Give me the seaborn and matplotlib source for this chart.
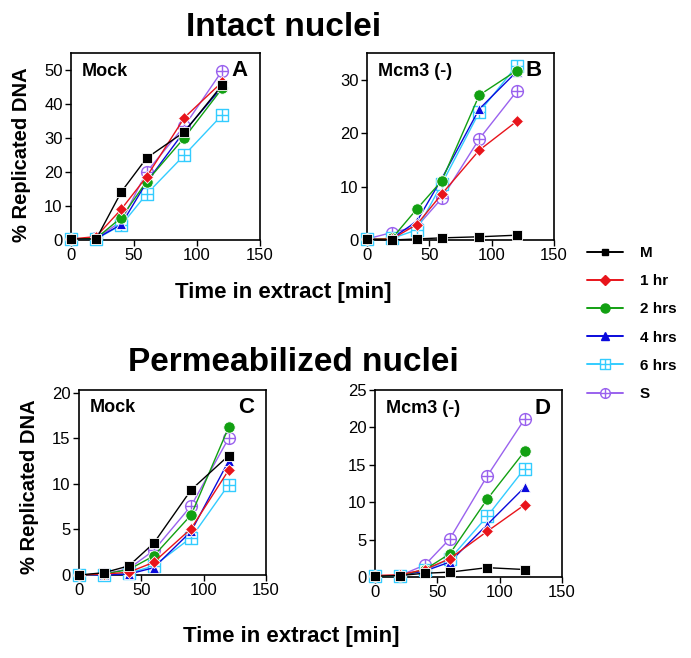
import numpy as np
import pandas as pd
import matplotlib
matplotlib.use("Agg")
import matplotlib.pyplot as plt
from matplotlib.path import Path
from matplotlib.lines import Line2D
import seaborn as sns

# ---------------- data ----------------
times = [0, 20, 40, 60, 90, 120]
series = ["M", "1 hr", "2 hrs", "4 hrs", "6 hrs", "S"]

# Panel A: Intact nuclei, Mock
A_M   = [0.3, 0.3, 14.2, 24.1, 31.8, 45.6]
A_1h  = [0.3, 1.0, 9.1, 18.6, 36.0, 46.5]
A_2h  = [0.3, 0.5, 6.6, 17.2, 30.1, 44.6]
A_4h  = [0.3, 0.4, 4.6, 17.0, 32.0, 45.0]
A_6h  = [0.3, 0.3, 4.4, 13.5, 25.0, 36.8]
A_S   = [0.3, 0.5, 5.5, 20.0, 33.5, 49.8]

# Panel B: Intact nuclei, Mcm3 (-)
B_M   = [0.1, 0.0, 0.2, 0.4, 0.6, 0.9]
B_1h  = [0.1, 0.2, 2.9, 8.6, 16.8, 22.2]
B_2h  = [0.1, 0.3, 5.8, 11.1, 27.1, 31.7]
B_4h  = [0.1, 0.3, 3.5, 11.5, 24.5, 31.5]
B_6h  = [0.1, 0.3, 1.9, 10.5, 23.9, 32.6]
B_S   = [0.2, 1.4, 2.5, 7.8, 18.9, 27.8]

# Panel C: Permeabilized nuclei, Mock
C_M   = [0.0, 0.25, 1.0, 3.5, 9.35, 13.1]
C_1h  = [0.0, 0.1, 0.3, 1.4, 5.1, 11.5]
C_2h  = [0.0, 0.1, 0.6, 2.1, 6.6, 16.2]
C_4h  = [0.0, 0.0, 0.1, 0.8, 4.8, 12.5]
C_6h  = [0.0, 0.0, 0.2, 1.0, 4.1, 9.9]
C_S   = [0.0, 0.1, 0.7, 2.7, 7.6, 15.0]

# Panel D: Permeabilized nuclei, Mcm3 (-)
D_M   = [0.1, 0.2, 0.5, 0.65, 1.25, 1.0]
D_1h  = [0.2, 0.3, 1.0, 2.45, 6.1, 9.65]
D_2h  = [0.1, 0.2, 1.0, 3.1, 10.4, 16.8]
D_4h  = [0.1, 0.2, 0.8, 2.0, 7.0, 12.0]
D_6h  = [0.1, 0.2, 0.9, 2.4, 8.1, 14.5]
D_S   = [0.1, 0.2, 1.6, 5.1, 13.5, 21.1]

panel_names = ["Mock", "Mcm3 (-)", "Mock", "Mcm3 (-)"]
panel_letters = ["A", "B", "C", "D"]
panel_data = [
    [A_M, A_1h, A_2h, A_4h, A_6h, A_S],
    [B_M, B_1h, B_2h, B_4h, B_6h, B_S],
    [C_M, C_1h, C_2h, C_4h, C_6h, C_S],
    [D_M, D_1h, D_2h, D_4h, D_6h, D_S],
]
y_limits = [55, 35, 20.3, 25]
y_ticks = [[0, 10, 20, 30, 40, 50], [0, 10, 20, 30], [0, 5, 10, 15, 20], [0, 5, 10, 15, 20, 25]]
x_ticks = [0, 50, 100, 150]

# ---------------- style ----------------
sns.set_style("ticks")
plt.rcParams["font.family"] = ["Liberation Sans", "DejaVu Sans"]
plt.rcParams["text.color"] = "black"
plt.rcParams["axes.labelcolor"] = "black"
plt.rcParams["xtick.color"] = "black"
plt.rcParams["ytick.color"] = "black"

colors = {"M": "#000000", "1 hr": "#e8141b", "2 hrs": "#12a012",
          "4 hrs": "#0a0adc", "6 hrs": "#33ccff", "S": "#9a62ee"}

sq = Path([[-1, -1], [1, -1], [1, 1], [-1, 1], [-1, -1]],
          [Path.MOVETO, Path.LINETO, Path.LINETO, Path.LINETO, Path.CLOSEPOLY])
cross = Path([[-1, 0], [1, 0], [0, -1], [0, 1]],
             [Path.MOVETO, Path.LINETO, Path.MOVETO, Path.LINETO])
square_plus = Path.make_compound_path(sq, cross)
circle_plus = Path.make_compound_path(Path.unit_circle(), cross)

style = {
    "M":     dict(marker="s", ms=7.2, mfc="#000000", mec="white", mew=0.6),
    "1 hr":  dict(marker="D", ms=6.3, mfc=colors["1 hr"], mec="white", mew=0.6),
    "2 hrs": dict(marker="o", ms=8.2, mfc=colors["2 hrs"], mec="white", mew=0.6),
    "4 hrs": dict(marker="^", ms=7.5, mfc=colors["4 hrs"], mec="white", mew=0.6),
    "6 hrs": dict(marker=square_plus, ms=8.0, mfc="white", mec=colors["6 hrs"], mew=1.0),
    "S":     dict(marker=circle_plus, ms=8.5, mfc="white", mec=colors["S"], mew=1.0),
}
draw_order = ["S", "6 hrs", "4 hrs", "2 hrs", "1 hr", "M"]

W, H = 691, 658
fig = plt.figure(figsize=(W / 100, H / 100), dpi=100)

boxes = [(71, 260, 53, 240), (367, 554, 53, 240), (79, 266, 390, 575), (375, 562, 390, 577)]

for i, (l, r, t, b) in enumerate(boxes):
    ax = fig.add_axes([l / W, 1 - b / H, (r - l) / W, (b - t) / H])
    for z, name in enumerate(draw_order):
        k = series.index(name)
        df = pd.DataFrame({"time": times, "value": panel_data[i][k]})
        st = style[name]
        sns.lineplot(data=df, x="time", y="value", ax=ax, color=colors[name],
                     marker=st["marker"], markersize=st["ms"],
                     markerfacecolor=st["mfc"], markeredgecolor=st["mec"],
                     markeredgewidth=st["mew"], linewidth=1.0,
                     clip_on=False, zorder=3 + z)
    ax.set_xlim(0, 150)
    ax.set_ylim(0, y_limits[i])
    ax.set_xticks(x_ticks)
    ax.set_yticks(y_ticks[i])
    ax.set_xlabel("")
    ax.set_ylabel("")
    for sp in ax.spines.values():
        sp.set_visible(True)
        sp.set_linewidth(1.2)
        sp.set_color("black")
    ax.tick_params(axis="both", direction="out", length=4, width=1.0,
                   labelsize=12, colors="black", pad=2)
    ax.text(11 / (r - l), 1 - 18 / (b - t), panel_names[i], transform=ax.transAxes,
            ha="left", va="center", fontsize=13, fontweight="bold")
    ax.text(1 - 12 / (r - l), 1 - 18 / (b - t), panel_letters[i], transform=ax.transAxes,
            ha="right", va="center", fontsize=16, fontweight="bold")

# titles and labels
fig.text(284 / W, 1 - 36 / H, "Intact nuclei", ha="center", va="baseline",
         fontsize=24, fontweight="bold")
fig.text(293 / W, 1 - 371 / H, "Permeabilized nuclei", ha="center", va="baseline",
         fontsize=24, fontweight="bold")
fig.text(283 / W, 1 - 298 / H, "Time in extract [min]", ha="center", va="baseline",
         fontsize=16, fontweight="bold")
fig.text(291 / W, 1 - 642 / H, "Time in extract [min]", ha="center", va="baseline",
         fontsize=16, fontweight="bold")
fig.text(22 / W, 1 - 155 / H, "% Replicated DNA", rotation=90, ha="center", va="center",
         fontsize=14.5, fontweight="bold")
fig.text(30 / W, 1 - 487 / H, "% Replicated DNA", rotation=90, ha="center", va="center",
         fontsize=14.5, fontweight="bold")

# legend
handles = []
leg_ms = {"M": 5, "1 hr": 5, "2 hrs": 6.5, "4 hrs": 5.5, "6 hrs": 6.5, "S": 7}
for name in series:
    st = style[name]
    handles.append(Line2D([0], [0], color=colors[name], lw=1.4, marker=st["marker"],
                          ms=leg_ms[name], mfc=st["mfc"] if st["mfc"] == "white" else colors[name],
                          mec=colors[name], mew=1.0))
fig.legend(handles=handles, labels=series, loc="upper left",
           bbox_to_anchor=(587 / W, 1 - 246 / H), frameon=False,
           prop={"weight": "bold", "size": 11}, handlelength=2.35,
           handletextpad=1.1, labelspacing=0.93, borderaxespad=0, borderpad=0)

fig.savefig("out.png", dpi=100)
